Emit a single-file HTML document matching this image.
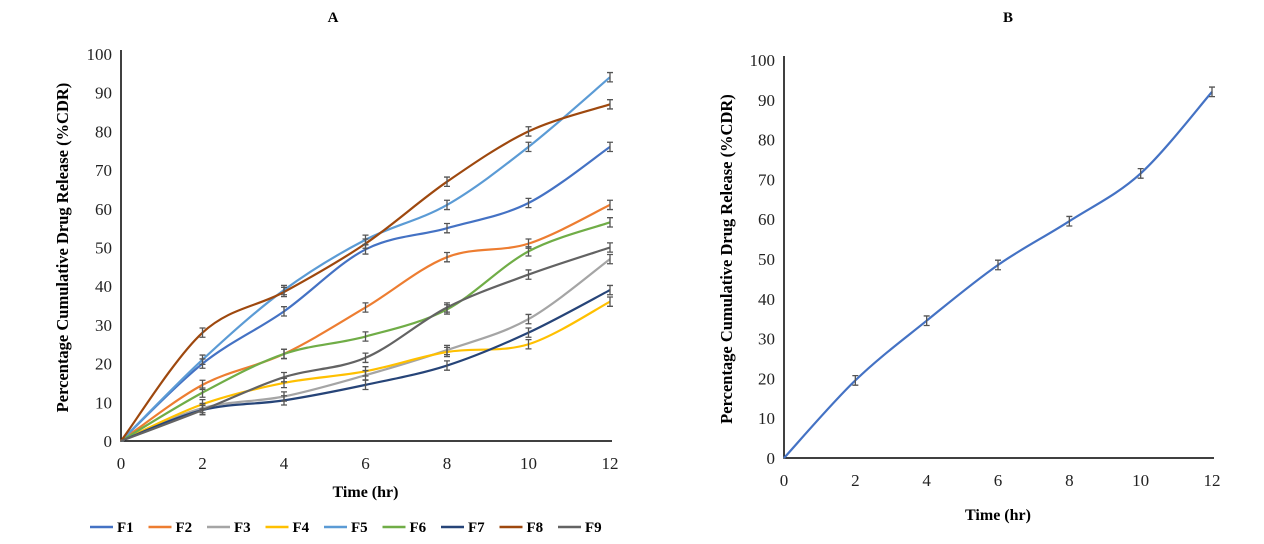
<!DOCTYPE html>
<html><head><meta charset="utf-8"><style>
body{margin:0;background:#fff}
svg{display:block;font-family:"Liberation Serif",serif}
</style></head><body>
<svg id="s" width="1264" height="544"></svg>
<script>
const hours=[0,2,4,6,8,10,12];
const yTicks=[0,10,20,30,40,50,60,70,80,90,100];
const seriesNames=["F1","F2","F3","F4","F5","F6","F7","F8","F9"];
const seriesColors=["#4472c4","#ed7d31","#a5a5a5","#ffc000","#5b9bd5","#70ad47","#264478","#9e480e","#636363"];
const F1=[0,20,33.5,49.5,55,61.5,76];
const F2=[0,14.5,22.5,34.5,47.5,51,61];
const F3=[0,8.5,11.5,17,23.5,31.5,47];
const F4=[0,9.5,15,18,23,25,36];
const F5=[0,21,39,52,61,76,94];
const F6=[0,12.5,22.5,27,34,49,56.5];
const F7=[0,8,10.5,14.5,19.5,28,39];
const F8=[0,28,38.5,51,67,80,87];
const F9=[0,8,16.5,21.5,34.5,43,50];
const seriesA=[F1,F2,F3,F4,F5,F6,F7,F8,F9];
const seriesB=[0,19.5,34.5,48.5,59.5,71.5,92];
const errA=1.2, errB=1.2;

const NS="http://www.w3.org/2000/svg";
const svg=document.getElementById('s');
function mk(tag,attrs,parent,text){const e=document.createElementNS(NS,tag);for(const k in attrs)e.setAttribute(k,attrs[k]);if(text!==undefined)e.textContent=text;(parent||svg).appendChild(e);return e;}
function smooth(pts){let d=`M${pts[0][0]},${pts[0][1]}`;for(let i=0;i<pts.length-1;i++){const p0=pts[i-1]||pts[i],p1=pts[i],p2=pts[i+1],p3=pts[i+2]||p2;const t=6;d+=` C${p1[0]+(p2[0]-p0[0])/t},${p1[1]+(p2[1]-p0[1])/t} ${p2[0]-(p3[0]-p1[0])/t},${p2[1]-(p3[1]-p1[1])/t} ${p2[0]},${p2[1]}`;}return d;}

function chart(cfg){
  const g=mk('g',{});
  
  
  const X=v=>cfg.x0+(cfg.x1-cfg.x0)*v/12, Y=v=>cfg.y0-(cfg.y0-cfg.y1)*v/100;
  const t=mk('text',{x:cfg.titleX,y:22,'text-anchor':'middle','font-size':15,'font-weight':'bold'},g,cfg.title);
  
  const ax=mk('path',{d:`M${cfg.x0},${cfg.y1-4}V${cfg.y0}H${cfg.x1+2}`,stroke:'#000',fill:'none','stroke-width':1.5},g);
  
  yTicks.forEach(v=>{const e=mk('text',{x:cfg.x0-9,y:Y(v)+6,'text-anchor':'end','font-size':17,fill:'#222'},g,v);
    });
  hours.forEach(v=>{const e=mk('text',{x:X(v),y:cfg.y0+28,'text-anchor':'middle','font-size':17,fill:'#222'},g,v);
    });
  const xt=mk('text',{x:(cfg.x0+cfg.x1)/2,y:cfg.y0+cfg.xTitleDy,'text-anchor':'middle','font-size':16,'font-weight':'bold'},g,'Time (hr)');
  
  const yc=(cfg.y0+cfg.y1)/2;
  const yt=mk('text',{x:cfg.yTitleX,y:yc,'text-anchor':'middle','font-size':16.5,'font-weight':'bold',transform:`rotate(-90 ${cfg.yTitleX} ${yc})`},g,'Percentage Cumulative Drug Release (%CDR)');
  
  cfg.series.forEach((s,i)=>{
    const pts=hours.map((h,j)=>[X(h),Y(s[j])]);
    const p=mk('path',{d:smooth(pts),stroke:cfg.colors[i],fill:'none','stroke-width':2.2},g);
    
    
  });
  cfg.series.forEach((s,i)=>{
    hours.forEach((h,j)=>{if(j===0)return;const x=X(h),ya=Y(s[j]+cfg.err),yb=Y(s[j]-cfg.err);
      const e=mk('path',{d:`M${x},${ya}V${yb}M${x-3},${ya}H${x+3}M${x-3},${yb}H${x+3}`,stroke:'#555','stroke-width':1.3,fill:'none'},g);
      });
  });
}
chart({name:'chart-a',title:'A',titleX:333,x0:121,x1:610,y0:441,y1:54,yTitleX:68,xTitleDy:56,series:seriesA,colors:seriesColors,names:seriesNames,err:errA});
chart({name:'chart-b',title:'B',titleX:1008,x0:784,x1:1212,y0:458,y1:60,yTitleX:732,xTitleDy:62,series:[seriesB],colors:['#4472c4'],names:['B'],err:errB});

const lg=mk('g',{});

seriesNames.forEach((n,i)=>{const x=90+i*58.5;
  const it=mk('g',{},lg);
  
  
  mk('line',{x1:x,x2:x+23,y1:527,y2:527,stroke:seriesColors[i],'stroke-width':2.5},it);
  mk('text',{x:x+27,y:532,'font-size':15,'font-weight':'bold'},it,n);
});
</script>
</body></html>
